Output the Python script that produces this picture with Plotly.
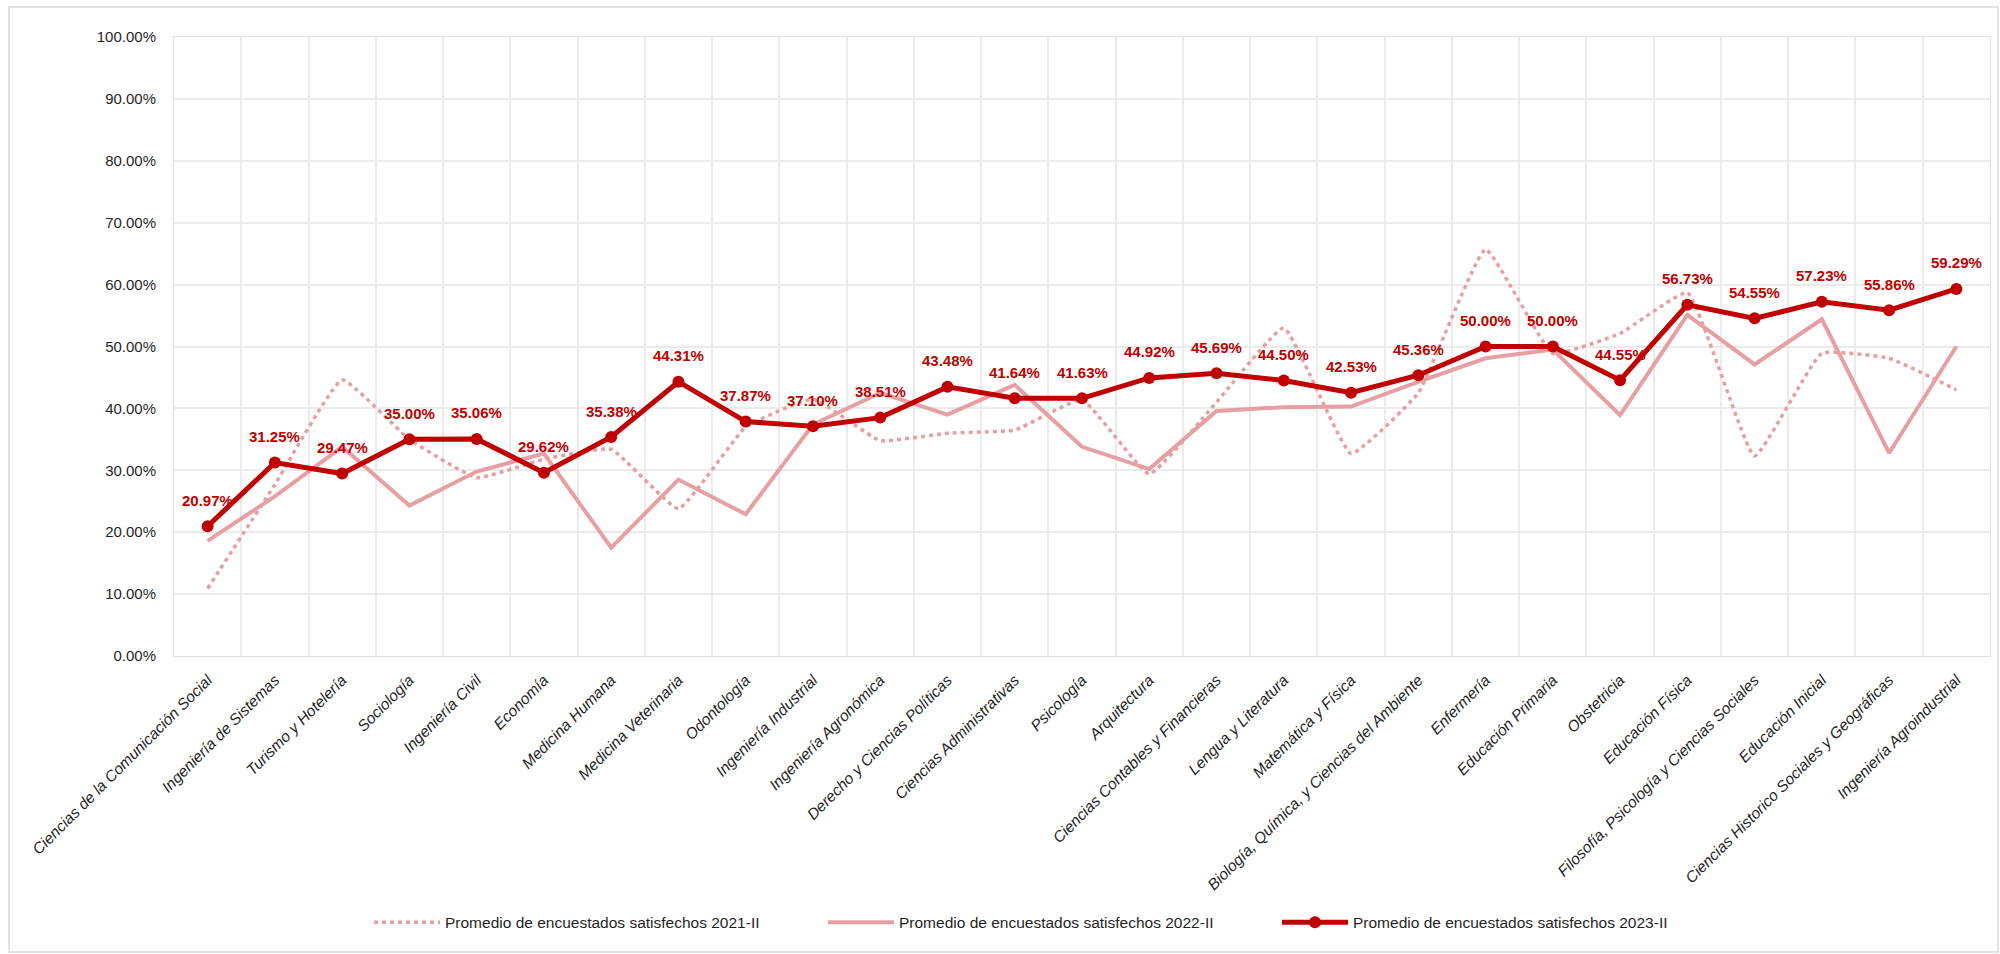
import plotly.graph_objects as go

categories = [
    "Ciencias de la Comunicación Social", "Ingeniería de Sistemas", "Turismo y Hotelería",
    "Sociología", "Ingeniería Civil", "Economía", "Medicina Humana", "Medicina Veterinaria",
    "Odontología", "Ingeniería Industrial", "Ingeniería Agronómica", "Derecho y Ciencias Políticas",
    "Ciencias Administrativas", "Psicología", "Arquitectura", "Ciencias Contables y Financieras",
    "Lengua y Literatura", "Matemática y Física", "Biología, Química, y Ciencias del Ambiente",
    "Enfermería", "Educación Primaria", "Obstetricia", "Educación Física",
    "Filosofía, Psicología y Ciencias Sociales", "Educación Inicial",
    "Ciencias Historico Sociales y Geográficas", "Ingeniería Agroindustrial",
]

s2021 = [0.109, 0.277, 0.446, 0.350, 0.288, 0.318, 0.334, 0.238, 0.370, 0.415, 0.348, 0.360,
         0.365, 0.414, 0.294, 0.410, 0.530, 0.327, 0.425, 0.657, 0.489, 0.521, 0.587, 0.323,
         0.489, 0.481, 0.430]
s2022 = [0.186, 0.258, 0.338, 0.243, 0.298, 0.327, 0.175, 0.285, 0.229, 0.374, 0.425, 0.390,
         0.438, 0.338, 0.302, 0.396, 0.402, 0.403, 0.443, 0.481, 0.495, 0.389, 0.551, 0.471,
         0.544, 0.328, 0.500]
s2023 = [0.2097, 0.3125, 0.2947, 0.3500, 0.3506, 0.2962, 0.3538, 0.4431, 0.3787, 0.3710, 0.3851,
         0.4348, 0.4164, 0.4163, 0.4492, 0.4569, 0.4450, 0.4253, 0.4536, 0.5000, 0.5000, 0.4455,
         0.5673, 0.5455, 0.5723, 0.5586, 0.5929]

names = ["Promedio de encuestados satisfechos 2021-II",
         "Promedio de encuestados satisfechos 2022-II",
         "Promedio de encuestados satisfechos 2023-II"]

FONT = "Liberation Sans, Arial, sans-serif"
DARK = "#C00000"
LIGHT = "#E6A0A3"
TXT = "#1F1F1F"

fig = go.Figure()
fig.add_trace(go.Scatter(x=categories, y=s2021, name=names[0], mode="lines",
                         line=dict(color=LIGHT, width=3.5, dash="4px,4px", shape="spline", smoothing=0.35)))
fig.add_trace(go.Scatter(x=categories, y=s2022, name=names[1], mode="lines",
                         line=dict(color=LIGHT, width=4)))
fig.add_trace(go.Scatter(x=categories, y=s2023, name=names[2], mode="lines+markers",
                         line=dict(color=DARK, width=5), marker=dict(color=DARK, size=12)))

for c, v in zip(categories, s2023):
    fig.add_annotation(x=c, y=v, text=f"{v*100:.2f}%", showarrow=False, yshift=26,
                       font=dict(family=FONT, size=15, color=DARK, weight="bold"))

fig.update_layout(
    width=2000, height=954,
    margin=dict(l=174, r=10, t=37, b=298),
    paper_bgcolor="white", plot_bgcolor="white",
    font=dict(family=FONT, size=15, color=TXT),
    showlegend=True,
    legend=dict(orientation="h", x=(369 - 174) / 1816, xanchor="left", y=-0.431, yanchor="middle",
                font=dict(family=FONT, size=15.5, color=TXT), itemwidth=66,
                entrywidth=373, traceorder="normal"),
    shapes=[dict(type="rect", xref="paper", yref="paper",
                 x0=(9 - 174) / 1816, x1=(1998 - 174) / 1816,
                 y0=(656 - 952) / 619, y1=(656 - 7) / 619,
                 line=dict(color="#D9D9D9", width=1.5), layer="below")],
)
fig.update_xaxes(type="category", range=[-0.5, len(categories) - 0.5], autorange=False,
                 tickson="boundaries", showgrid=True, gridcolor="#EBEBEB",
                 gridwidth=1.5, showline=True, linecolor="#E0E0E0", mirror=True, ticks="",
                 tickangle=-45, ticklabelstandoff=8, automargin=False,
                 tickfont=dict(family=FONT, size=15.5, color=TXT, style="italic"))
fig.update_yaxes(range=[0, 1], dtick=0.1, tickformat=".2%", showgrid=True, gridcolor="#EBEBEB",
                 gridwidth=1.5, showline=True, linecolor="#E0E0E0", mirror=True, ticks="",
                 zeroline=False, ticklabelstandoff=14, automargin=False,
                 tickfont=dict(family=FONT, size=15, color=TXT))

fig.write_html("out.html")
